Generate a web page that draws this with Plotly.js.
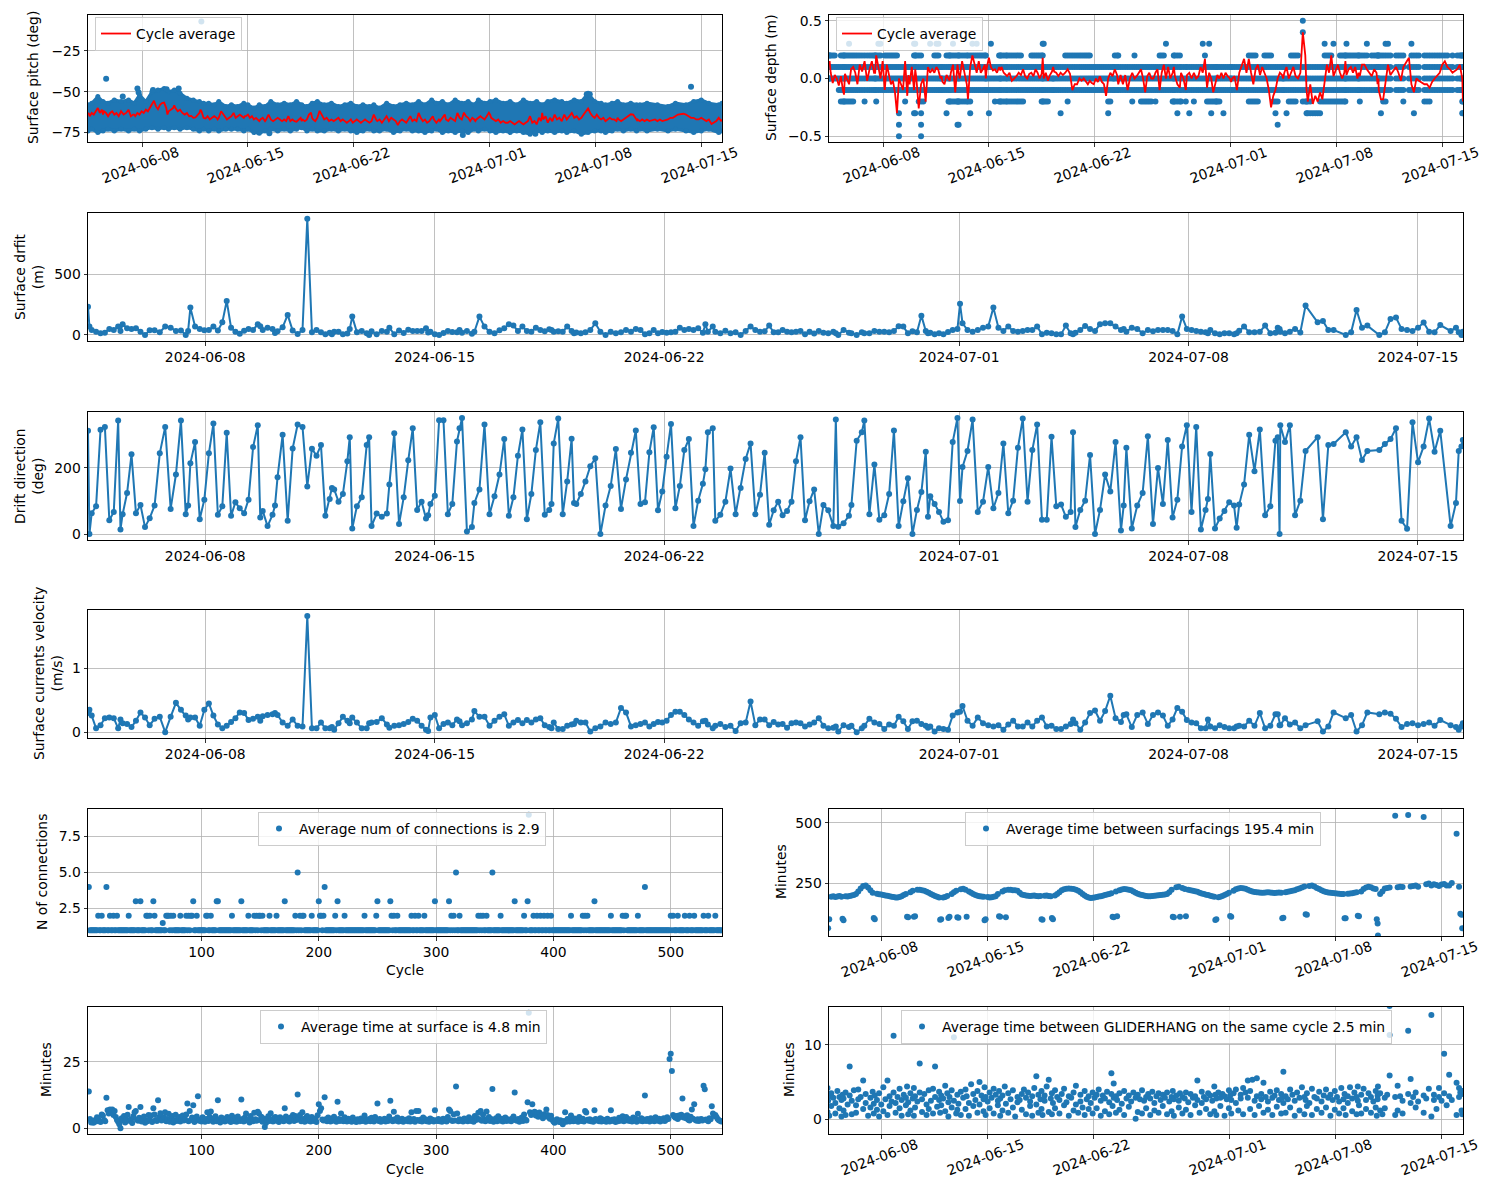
<!DOCTYPE html>
<html><head><meta charset="utf-8">
<script src="https://cdn.plot.ly/plotly-3.0.1.min.js"></script>
<style>body{margin:0;background:#fff}#chart{width:1500px;height:1200px}</style>
</head><body><div id="chart"></div>
<script>
// ---------------- DATA ----------------
const firstSurfacing = '2024-06-04 10:10';
// minutes between consecutive surfacings
const surfIntervalMin = [
62,100,193,195,192,194,196,193,102,95,195,194,196,198,200,
205,215,228,238,240,232,220,210,
105,100,206,204,203,200,198,197,195,193,192,190,190,192,195,
200,205,110,108,212,218,110,112,222,222,220,
218,214,210,205,200,196,193,190,98,100,190,
192,196,105,110,205,212,218,108,106,224,226,222,110,215,
210,205,200,197,195,194,193,95,100,192,190,191,193,195,
205,112,110,215,220,108,222,222,220,220,218,
210,203,200,198,197,196,197,198,196,195,196,100,98,197,198,196,195,105,100,198,
205,212,220,224,226,227,226,225,222,218,212,
205,198,193,190,188,189,190,192,194,195,197,200,203,205,208,
110,108,215,112,220,223,225,224,222,220,
215,210,206,203,200,198,196,195,195,196,197,198,199,200,201,203,205,
212,222,110,108,233,235,110,230,225,112,222,220,218,
216,214,210,207,205,202,200,197,195,193,97,100,191,193,
196,200,205,210,113,110,218,224,228,230,229,226,
222,218,215,213,212,211,210,210,211,212,211,210,209,210,211,210,104,106,212,214,216,218,220,224,228,
232,236,120,118,238,240,236,230,225,220,
216,213,211,210,209,208,207,206,205,205,104,104,206,207,208,210,212,114,112,215,
225,232,235,233,228,225,100,82,32,205,215,
228,230,232,530,233,235,234,533,236,
238,240,235,525,245,248,240,245,242,238,244,246,240,240,250,455,235,122,118,62];

const surfaceDriftM = [
233,69,41,27,14,19,50,41,69,33, 88,55,50,55,27,0,38,38,22,69, 60,33,36,0,33,225,69,50,38,41,
69,36,104,280,60,27,11,35,50,41, 88,71,41,60,50,16,30,63,165,36, 8,41,956,22,41,22,5,18,5,27,
27,5,12,50,151,22,33,14,0,30, 5,33,27,60,5,36,16,44,33,33, 33,55,20,27,5,0,16,33,25,22,
41,19,33,10,27,151,69,27,14,38, 55,88,77,33,69,33,27,60,41,30, 48,
41,27,30,27,69,33,14,20,14,22, 41,96,27,0,27,14,22,40,27,50, 41,5,14,41,14,25,19,22,27,60,
41,50,41,55,18,88,27,69,27,14, 35,14,22,0,33,69,41,27,30,77, 22,22,41,27,22,27,33,5,27,12,
33,19,14,27,14,0,41,19,14,0, 22,14,14,33,27,27,22,33,71,69, 14,30,22,159,33,14,19,5,14,5,
25,41,50,256,96,41,27,41,60,69, 225,60,33,
69,33,27,33,41,41,69,5,19,14, 5,5,77,14,5,18,41,74,50,33, 88,96,96,69,41,50,27,60,50,14,
41,30,41,41,41,33,5,151,50,41, 33,27,22,14,41,14,5,14,14,5, 14,35,69,22,22,27,77,14,19,60,
50,27,14,27,50,20,242,104,115,41, 41,0,22,206,60,77,0,22,132,143, 50,41,33,60,102,27,22,82,33,60,
22,0,27];

const driftDirectionDeg = [
312,0,63,84,315,324,42,67,343,14, 60,124,241,63,88,21,48,86,244,324, 76,180,343,60,86,214,278,45,104,244,
334,58,84,306,55,96,78,63,104,263, 329,50,70,24,58,86,172,300,40,259, 331,324,144,258,237,269,55,106,139,135,
98,121,220,293,17,84,111,269,293,24, 62,52,62,150,305,30,111,223,320,73, 98,47,57,91,116,344,344,60,91,280,
320,351,8,21,94,135,331,60,114,180, 287,55,111,237,316,45,121,254,338,58, 73,
91,274,349,60,159,288,94,91,121,159, 205,229,0,86,145,257,76,165,246,313, 91,96,247,323,72,129,234,333,78,145,
254,287,24,101,152,196,308,320,40,58, 98,198,60,139,227,274,60,119,246,28, 72,98,57,70,98,220,293,42,99,135,
0,88,72,24,346,22,33,55,88,282, 308,343,60,210,43,57,121,313,24,99, 169,0,73,127,249,52,114,91,67,37,
42,278,351,100,203,251,346,67,98,203, 78,124,274,
63,101,261,349,98,254,331,43,43,294, 84,89,52,67,308,21,73,101,239,0, 73,180,129,278,11,86,261,17,86,124,
296,30,200,91,284,50,104,265,329,67, 324,14,73,106,242,17,47,70,96,86, 19,89,150,300,190,316,57,84,282,293,
0,329,278,329,57,101,251,293,45,269, 272,308,265,293,224,251,254,272,287,320, 40,16,338,217,265,349,249,312,24,94,
251,265,284];

const currentVelocityMs = [
0.30,0.35,0.26,0.06,0.11,0.22,0.23,0.22,0.06,0.20, 0.14,0.13,0.08,0.18,0.31,0.23,0.11,0.21,0.24,0.00,
0.24,0.46,0.35,0.26,0.20,0.23,0.23,0.10,0.35,0.45, 0.26,0.12,0.06,0.10,0.16,0.22,0.31,0.30,0.19,0.21,
0.24,0.18,0.25,0.27,0.28,0.30,0.27,0.15,0.10,0.20, 0.10,0.09,1.82,0.06,0.06,0.15,0.06,0.06,0.08,0.04,
0.14,0.24,0.18,0.14,0.23,0.15,0.06,0.06,0.14,0.15, 0.16,0.22,0.12,0.07,0.10,0.11,0.13,0.16,0.21,0.18,
0.10,0.04,0.02,0.23,0.27,0.06,0.13,0.15,0.11,0.20, 0.17,0.11,0.14,0.20,0.33,0.24,0.24,0.10,0.18,0.24,
0.28,0.10,0.15,0.19,0.14,0.19,0.15,0.20,0.22,0.11, 0.08,0.06,0.15,0.05,0.05,0.10,0.12,0.13,0.18,0.15,
0.15,0.01,0.06,0.09,0.15,0.13,0.15,0.38,0.31,0.09, 0.11,0.13,0.15,0.09,0.13,0.16,0.15,0.18,0.27,0.32,
0.32,0.27,0.20,0.15,0.10,0.17,0.18,0.12,0.06,0.10, 0.13,0.08,0.10,0.02,0.14,0.15,0.48,
0.11,0.20,0.20,0.11,0.16,0.12,0.13,0.07,0.14,0.15, 0.14,0.09,0.12,0.15,0.22,0.10,0.06,0.07,0.09,0.01,
0.11,0.08,0.10,0.00,0.06,0.10,0.21,0.15,0.13,0.05, 0.12,0.10,0.24,0.17,0.05,0.17,0.18,0.13,0.10,0.07,
0.09,0.01,0.06,0.05,0.04,0.26,0.31,0.32,0.41,0.18, 0.10,0.23,0.14,0.11,0.09,0.11,0.04,0.12,0.18,0.09,
0.09,0.15,0.09,0.18,0.23,0.09,0.10,0.05,0.05,0.09, 0.13,0.20,0.14,0.04,0.15,0.30,0.34,0.18,0.33,0.57,
0.22,0.16,0.27,0.28,0.08,0.27,0.31,0.13,0.27,0.31, 0.26,0.10,0.20,0.38,0.32,0.19,0.15,0.14,0.06,0.06,
0.20,0.09,0.06,0.11,0.08,0.06,0.06,0.09,0.10,0.09, 0.18,0.10,0.30,0.06,0.10,0.28,0.28,0.11,0.11,0.22,
0.12,0.15,0.06,0.11,0.17,0.01,0.09,0.31,0.22,0.27, 0.01,0.11,0.31,0.28,0.31,0.29,0.21,0.08,0.13,0.14,
0.11,0.13,0.15,0.10,0.19,0.11,0.08,0.04,0.09,0.14];

// surface pitch: cycle average, and the envelope of the raw samples (every third surfacing)
const pitchCycleAvgDeg = [
-64,-63,-65,-63,-64,-62,-60,-63,-61,-64,-62,-63,-65,-63,-62,-64,
-63,-65,-62,-64,-63,-61,-65,-64,
-64,-65,-63,-64,-62,-63,-61,-62,-60,-58,-55.5,-59,-60.7,-58,-57,
-56.7,-60,-64,-62,-61,-60,-58.3,-60,-62,-61,-63,
-64,-63,-65,-64.8,-66,-65.8,-64,-63,-61,-62,-66,
-66.4,-65,-66,-67,-66,-65,-66,-67,-66,-62,-64,-66,-67,-66,
-65,-63,-66,-65,-64,-65,-66,-65,-65,-64,-66,-65,-67,-66,
-67,-68,-67,-66,-68,-67,-64,-67,-68,-67,-66,
-67,-68,-67,-68,-65,-68,-67,-68,-68.4,-67,-66,-68,-67,-68,-67,-64,-62.8,-66,-67,-68,
-66,-61.7,-64,-67,-66,-68,-67,-68,-67,-66,-68,
-67,-68,-69,-68,-67,-69,-68,-67,-68,-69,-68,-67,-68,-69,-68,
-66,-64,-67,-68,-67,-69,-67,-65,-68,-66,
-67,-68,-70.4,-68,-67,-68,-69,-67,-65,-68,-67,-68,-63,-66,-68,-67,-69,
-68,-66,-65,-67,-69,-67,-68,-66,-64,-67,-68,-66,-67,
-68,-63,-66,-67,-62.8,-65,-66,-68,-66,-67,-68,-67,-66,-65,
-66,-67,-65,-62.8,-64,-66,-67,-68,-67,-69,-68,-69,
-69,-68,-69,-70,-69,-68,-69,-70,-69,-68,-65,-69,-68,-70,-66,-68,-63,-67,-65,-69,-66,-68,-64,-67,-66,
-68,-64,-66,-67,-65,-63,-66,-65,-67,-66,
-64,-62,-60.3,-63,-65,-66,-64,-66,-67,-66,-67,-68,-67,-66,-67,-67,-68,-66,-67,-68,
-67,-66,-65,-63.8,-64,-66,-67,-68,-67,-68,-67,
-68,-67,-68,-67,-68,-67,-68,-67,-66,
-66,-65,-64,-63.5,-64,-65,-66,-66,-67,-67,-66,-67,-68,-67,-69.8,-68,-66,-67,-68,-67];
const pitchUpperDeg = [
-58,-57,-53,-56,-57,-55, -56,-55, -57,-52,-56,-50,-49, -48,-50,-49,-51, -54,-55,-56,-57,
-57,-58,-56,-59,-58, -59,-57,-58,-60,-58,-59,-56,-58, -57,-58,-56,-58,-59,-57,-56,
-58,-57,-59,-58,-57,-59,-58, -59,-58,-60,-57,-59,-58,-57,-58, -56,-58,-55,-57,-56,-58,-55,
-57,-56,-58,-55,-57,-56,-55,-57, -56,-58,-55,-57,-56,-58,-56,-55, -56,-57,-55,-56,-51,-56,
-57,-58,-57,-56,-58,-57,-58, -58,-57,-58,-59,-57,-58, -56,-55,-57,-58,-57];
const pitchLowerDeg = [
-74,-73,-75,-74,-73,-74, -73,-74, -73,-74,-73,-72,-73, -72,-73,-72,-73, -72,-73,-74,-73,
-74,-73,-74,-73,-73, -73,-74,-73,-75,-75.5,-74,-73,-74, -73,-74,-73,-72,-74,-73,-74,
-74,-73,-74,-73,-74,-75,-74, -73,-74,-74,-73,-75,-74,-73,-74, -74,-75,-74,-73,-75,-74,-75,
-74,-75,-73,-74,-73,-74,-75,-74, -75,-74,-75,-76,-74,-75,-74,-75, -74,-75,-74,-76,-75,-74,
-74,-75,-74,-73,-74,-73,-74, -73,-74,-73,-74,-73,-74, -75,-74,-73,-75,-74];
const pitchOutlierDay = [1.2, 2.3, 3.27, 3.35, 4.3, 5.2, 6.0, 7.5, 12.0, 24.8, 29.6, 33.0, 33.2, 39.9];
const pitchOutlierDeg = [-42, -53, -48, -50.5, -49, -48.5, -48, -7, -75.5, -76.5, -75.8, -51.5, -51.5, -47];

// surface depth: cycle average and the recorded depth levels [level m, from day, to day]
const depthCycleAvgM = [
0.12,0.15,0.05,-0.04,0.03,0.0,-0.06,0.02,-0.1,-0.14,0.04,0.0,-0.05,0.08,0.1,0.05,
-0.05,0.12,0.06,0.15,-0.02,0.08,0.15,0.05,
0.05,0.2,0.1,0.0,0.15,-0.1,0.12,0.02,-0.05,-0.02,-0.12,-0.3,0.0,-0.05,-0.1,
0.15,-0.15,0.03,-0.05,0.1,-0.1,0.08,0.0,-0.26,-0.05,0.0,
-0.2,0.1,0.05,0.08,0.05,0.1,0.07,0.0,0.02,-0.03,-0.05,
0.03,0.0,-0.02,0.05,0.12,-0.12,0.12,0.05,0.0,0.15,0.05,-0.05,-0.18,0.1,
0.2,0.12,0.05,0.15,0.05,0.08,0.12,0.0,0.1,0.18,0.1,0.07,0.08,0.05,
0.1,0.07,0.1,0.05,0.03,0.02,0.05,-0.02,0.0,0.02,0.05,
0.03,0.08,0.02,0.0,0.04,0.05,0.02,0.08,0.05,0.0,0.04,0.18,0.0,0.05,-0.02,0.03,0.06,0.1,0.06,0.05,
0.02,0.05,0.03,0.05,0.08,0.04,-0.1,-0.05,-0.05,0.0,-0.02,
0.0,-0.03,-0.05,-0.02,-0.04,-0.05,0.0,-0.03,0.02,-0.03,-0.05,-0.15,0.0,0.05,0.02,
0.05,0.08,0.03,-0.05,0.03,-0.05,0.03,-0.1,0.0,0.05,
0.0,0.02,0.05,0.08,0.0,-0.12,0.02,0.05,0.0,0.0,0.05,0.08,-0.1,0.05,0.12,0.0,0.1,
0.0,0.05,0.1,0.02,-0.05,-0.08,0.05,0.0,-0.1,0.03,0.05,0.0,0.05,
0.0,0.02,0.1,0.05,0.17,-0.08,0.05,0.0,-0.12,-0.05,0.0,0.03,0.0,0.05,
0.0,0.05,0.02,0.0,-0.03,0.0,0.02,-0.1,0.05,0.12,0.17,0.05,
0.17,0.05,-0.05,0.08,0.12,0.03,0.1,0.05,0.0,-0.1,-0.25,-0.15,-0.1,0.0,0.05,0.03,0.0,0.05,0.1,0.0,0.05,0.1,0.02,0.0,0.05,
0.4,0.2,-0.1,-0.2,-0.05,-0.22,-0.15,-0.2,-0.12,-0.18,
0.0,0.12,0.05,0.2,0.02,0.08,0.12,0.05,0.0,0.05,0.15,0.03,0.08,0.1,0.05,0.1,0.0,0.05,0.02,0.12,
0.12,0.08,0.05,0.02,0.08,0.05,-0.05,0.0,-0.1,-0.18,-0.18,
-0.02,0.12,0.03,0.1,0.05,-0.02,0.1,0.18,-0.05,
-0.12,0.0,-0.02,-0.05,-0.05,-0.08,-0.03,0.0,0.03,0.05,0.12,0.15,0.1,0.08,0.05,0.08,0.12,0.05,0.0,-0.2];
const depthLevelSpans = [
[0.1,0,41.95],[0,0,41.95],[-0.1,0.6,41.95],
[0.2,0,0.37],[0.2,0.84,3.34],[0.2,3.75,4.43],[0.2,5.68,6.15],[0.2,6.93,7.18],[0.2,7.8,8.34],[0.2,8.5,9.12],
[0.2,9.27,10.37],[0.2,11.3,12.7],[0.2,13.33,14.11],[0.2,15.67,16.92],[0.2,17.2,17.2],[0.2,18.95,19.1],
[0.2,20.2,20.2],[0.2,21.9,22.2],[0.2,22.85,23.17],[0.2,24.85,24.85],[0.2,27.7,28.2],[0.2,28.8,29.25],
[0.2,30.5,31.1],[0.2,32.8,33.3],[0.2,33.8,35.65],[0.2,35.97,36.6],[0.2,36.9,38.15],[0.2,38.46,41.0],[0.2,41.27,41.95],
[0.3,1.31,1.31],[0.3,3.34,3.34],[0.3,5.68,5.68],[0.3,6.62,6.62],[0.3,7.18,7.18],[0.3,8.24,8.24],[0.3,9.43,9.43],
[0.3,9.8,9.8],[0.3,10.68,10.68],[0.3,14.2,14.2],[0.3,22.23,22.23],[0.3,24.73,24.73],[0.3,25.2,25.2],
[0.3,32.84,32.84],[0.3,33.31,33.31],[0.3,34.25,34.25],[0.3,35.65,35.65],[0.3,36.9,37.06],[0.3,38.46,38.46],
[-0.2,0.84,1.62],[-0.2,2.4,2.4],[-0.2,3.18,3.18],[-0.2,5.06,5.06],[-0.2,5.99,6.3],[-0.2,7.87,8.43],[-0.2,8.49,9.27],
[-0.2,10.99,10.99],[-0.2,11.3,12.86],[-0.2,14.11,14.42],[-0.2,15.83,15.83],[-0.2,18.48,18.64],[-0.2,20.05,20.05],
[-0.2,20.6,21.3],[-0.2,21.6,21.6],[-0.2,22.7,23.3],[-0.2,23.6,23.6],[-0.2,24.1,24.1],[-0.2,25.04,25.8],
[-0.2,27.85,28.33],[-0.2,29.4,29.72],[-0.2,30.4,30.85],[-0.2,31.3,31.9],[-0.2,32.5,34.1],[-0.2,35.19,35.19],
[-0.2,36.6,36.9],[-0.2,38.15,38.15],[-0.2,39.4,39.7],[-0.2,41.9,41.95],
[-0.3,4.62,4.62],[-0.3,5.68,5.68],[-0.3,6.15,6.15],[-0.3,7.74,7.74],[-0.3,9.27,9.27],[-0.3,10.58,10.58],
[-0.3,15.36,15.36],[-0.3,18.48,18.48],[-0.3,23.0,23.0],[-0.3,23.79,23.79],[-0.3,25.35,25.35],[-0.3,26.07,26.07],
[-0.3,29.57,29.57],[-0.3,30.25,30.25],[-0.3,31.6,32.53],[-0.3,36.59,36.59],[-0.3,38.71,38.71],[-0.3,41.9,41.95],
[-0.4,4.62,4.62],[-0.4,6.15,6.15],[-0.4,8.55,8.55],[-0.4,29.72,29.72],
[-0.5,4.62,4.62],[-0.5,6.15,6.15],[0.4,31.28,31.28],[0.5,31.28,31.28]];

// minutes between GLIDERHANG messages, listed per surfacing
const gliderhangMin = [
[4.2,1.0],[2.5],[3.1,0.5],[1.8,3.5],[2.9],[0.8,2.2],[3.8],[1.5,3.0],[0.4,2.6],[3.3],
[1.2,2.8],[3.6,0.6],[2.0],[7.1,3.2],[0.7,2.5],[3.9],[1.9,0.9],[2.7,4.0],[3.0],[5.2,1.4],
[2.2,3.4],[0.5],[2.9,1.6],[3.7],[0.8,2.1],[3.2],[1.3,2.6],[3.5,0.4],[2.0],[4.3,1.1],
[2.7],[5.2,0.6],[3.1,1.8],[2.4],[11.2,3.6],[0.9,2.2],[3.0],[1.5,4.1],[2.6,0.5],[3.3],
[1.9,2.9],[4.4],[0.7,2.3],[3.5,1.2],[2.8],[0.5,4.2],[3.1,1.6],[2.4],[7.5,3.6],[1.0,2.7],
[3.4],[0.6,2.0],[3.9,1.4],[2.5],[4.1,0.8],[7.1,3.0],[1.7],[2.6,3.7],[0.9],[3.2,1.9],
[2.8],[4.5,1.1],[3.5],[0.4,2.3],[3.0],[1.6,3.9],[11.0,2.5],[0.8],[3.3,1.3],[2.1],
[3.7,0.6],[2.9],[1.4,4.0],[3.1],[2.2,0.5],[4.7],[3.4,1.8],[2.6],[0.9,3.8],[5.0,2.0],
[3.2],[1.1,2.7],[4.3],[0.6,3.0],[2.4],[3.6,1.5],[2.9],[0.8,4.1],[3.3],[1.9,2.5],
[3.8],[0.5,2.8],[3.2,1.2],[4.4],[2.1],[0.9,3.5],[2.7],[3.9,1.6],[0.4],[3.0,2.3],
[2.6],[1.3,3.4],[4.0],[0.7,2.9],[3.6],[1.8,2.4],[3.1,0.5],[4.2],[5.8,2.0],[0.9,3.3],
[2.7],[3.8,1.4],[0.6],[2.5,3.2],[4.4],[5.3,1.0],[2.8],[3.5,0.7],[2.2],[1.5,3.9],
[3.0],[0.8,2.6],[3.4],[1.9,4.1],[2.3],[0.5,3.1],[2.9],[3.6,1.2],[4.5,2.0],[0.9],
[3.3,2.4],[1.6],[3.8,0.6],[2.7],[3.1,1.4],[2.2],[0.8,3.6],[2.9],[1.5,3.3],[4.0],
[2.5,0.5],[3.2],[1.1,2.8],[3.7],[0.7,2.3],[6.2,3.4],[1.8],[4.8,2.9],[0.9,3.1],[2.6],
[3.5,1.3],[2.1],[0.6,3.8],[2.8],[3.2,1.7],[2.4],[3.6],[0.1,2.9],[3.3,1.0],[2.7],
[3.9,0.8],[2.5],[3.0,1.5],[3.4],[0.6,2.8],[3.7],[2.2,1.2],[3.1],[0.9,3.5],[2.6],
[3.3,1.8],[2.9],[0.7,3.6],[2.4],[3.0,1.1],[3.8],[2.7,0.5],[3.2],[1.6,2.5],[3.5],
[0.8,3.0],[2.8],[3.6,1.3],[2.3],[0.6,3.4],[2.9],[3.1,1.9],[5.2,2.6],[0.9],[3.7,2.2],
[3.0],[1.4,2.7],[3.5],[0.7,3.2],[2.5],[4.4,1.1],[3.3],[2.8,0.6],[3.6],[1.8,2.9],
[3.4],[0.5,3.1],[2.7],[3.9,1.5],[3.2],[0.8,2.6],[3.5],[2.2,4.0],[1.2],[3.3,2.8],
[4.2,0.7],[3.6],[5.2,2.9],[1.4,3.8],[5.3],[2.5,0.6],[5.5,3.1],[1.8],[3.4,2.7],[4.9,0.9],
[3.0],[2.4,1.3],[3.7],[0.6,2.9],[3.2],[1.7,3.9],[2.6],[0.8,3.4],[2.9],[6.4,2.2],
[3.1,0.9],[2.7],[4.0,1.6],[3.3],[0.5,2.5],[3.6],[2.9,1.2],[4.3],[0.7,3.0],[2.6],
[3.5,1.8],[2.2],[4.1,0.6],[3.0],[1.4,2.8],[3.7],[0.9,2.4],[3.2],[1.6,4.0],[2.9],
[0.5,3.3],[2.6],[3.8,1.3],[3.0],[0.8,2.4],[4.2],[2.7,1.5],[3.4],[0.6],[3.1,2.2],
[4.3],[1.1,2.8],[3.6],[0.7,3.0],[4.4,2.5],[1.9],[3.3,0.8],[4.1],[2.6,1.4],[3.5],
[0.9,3.0],[2.4],[3.8,1.6],[0.5],[3.2,2.7],[4.4],[1.2,3.5],[0.7],[2.9,1.5],[3.3],
[15.2,11.3,5.9],[0.6,3.0],[4.5,1.2],[3.1],[2.5,0.8],[11.9,3.4],[5.4,2.2],[3.0],[1.6,3.6],[2.4],
[3.2,0.9],[2.8],[4.1],[14.0,0.4],[3.3,2.6],[1.4],[3.0,4.2],[2.5],[8.8,3.5],[1.9],
[6.0,3.1],[2.6],[4.9,0.6],[4.2,3.0],[3.6],[3.4,1.2],[0.7,3.8]];

// per cycle, starting at cycle 4
const firstCycle = 4;
const connectionsPerCycle = [
4,1,1,1,1,1,1,1,2,1,1,2,1,1,1,4,1,1,2,1, 1,2,1,1,2,1,1,1,1,1,1,1,1,1,2,1,1,1,1,1,
3,1,1,1,3,1,1,1,1,2,2,1,2,1,1,3,2,1,1,1, 1,1,1,1.5,1,1,2,2,2,1,2,1,2,1,1,1,1,1,2,1,
1,1,1,2,1,2,1,2,2,3,1,1,2,1,1,1,1,1,1,1, 2,2,1,1,2,1,1,1,1,3,3,1,1,1,1,1,1,1,1,1,
1,1,2,1,1,1,1,1,1,1,3,1,1,1,1,1,2,1,1,1, 1,2,1,2,1,2,2,1,2,1,1,1,1,1,2,1,1,1,1,1,
2,1,1,1,1,1,1,3,1,1,1,1,1,1,1,1,2,1,5,1, 2,1,2,2,1,1,1,1,1,1,2,1,1,1,1,1,3,2,2,1,
2,4,1,1,1,1,1,1,1,1,2,1,3,1,1,1,1,1,2,1, 1,1,1,1,1,1,1,1,1,1,1,1,1,1,1,2,1,1,1,1,
1,1,1,1,1,2,3,1,1,1,1,1,1,1,1,1,1,3,2,1, 2,1,1,2,1,1,1,1,1,1,1,1,1,1,1,2,1,1,2,1,
1,2,1,1,1,1,2,1,1,1,1,1,1,1,1,3,1,1,1,1, 1,1,1,1,1,1,1,3,1,2,1,2,1,5,1,1,2,1,1,1,
1,1,1,1,1,1,1,1,1,1,1,1,2,1,2,1,2,1,1,2, 1,1,1,1,5,1,1,1,1,1,1,2,1,1,1,1,1,1,1,1,
1,1,1,3,1,1,1,1,1,1,1,2,1,1,3,9,1,1,1,2, 1,1,2,1,1,2,1,1,2,1,1,2,1,1,2,1,1,1,1,1,
1,1,1,1,1,1,1,1,1,1,1,2,1,1,1,1,1,1,1,1, 1,2,1,2,1,2,1,1,1,1,1,3,1,1,1,1,1,1,1,1,
1,1,1,1,1,2,1,1,1,1,1,1,1,1,1,2,1,2,2,1, 1,1,1,1,1,1,1,1,2,1,1,1,1,1,4,1,1,1,1,1,
1,1,1,1,1,1,1,1,1,1,1,1,1,1,1,1,2,1,2,1, 1,1,2,1,1,1,1,1,2,1,1,1,2,1,1,1,2,1,1,1,
1,1,1,1,2,1,1,1,2,1,1,1,1,1,2,1,1,1,1,1];
const surfaceTimeMin = [
13.8,3.5,2.2,2.8,2.1,3.0,2.5,4.1,3.6,2.7,2.3,5.2,4.8,3.1,2.6,11.5,6.8,5.5,7.0,6.2,
7.0,5.0,6.5,4.2,3.1,2.4,1.5,0.0,3.8,2.9,4.6,2.2,3.3,5.1,8.0,2.7,3.4,2.0,4.5,6.0,
6.5,3.2,2.8,3.9,8.0,2.5,3.6,4.4,2.1,3.0,2.6,5.0,3.4,4.8,2.3,7.5,5.2,3.1,2.7,10.5,
4.1,5.6,2.9,3.3,4.0,6.0,2.6,3.5,5.4,2.4,3.8,4.6,2.2,3.0,5.1,2.7,3.6,4.2,2.5,3.3,
4.8,2.9,3.4,5.2,9.3,2.6,6.5,3.1,4.0,8.6,2.3,3.7,4.4,12.0,2.8,3.2,2.5,4.1,3.0,2.4,
3.5,6.0,2.7,4.3,6.3,3.0,2.4,3.8,4.5,2.6,10.5,3.3,2.2,4.0,2.9,3.6,2.5,3.1,4.2,2.8,
3.4,2.3,4.7,3.0,2.6,3.9,2.4,4.4,3.1,2.7,10.8,3.5,2.5,4.0,5.5,2.9,3.3,2.2,4.6,3.0,
2.6,5.8,3.4,2.8,6.2,5.5,3.1,4.3,2.4,3.7,0.5,2.0,3.2,4.5,2.7,5.6,3.3,2.5,3.9,4.2,
2.8,3.5,2.3,4.1,3.0,3.6,2.6,7.5,4.4,2.9,3.2,2.5,4.0,3.4,5.0,2.7,4.6,3.1,12.7,3.8,
5.0,2.6,6.0,3.5,2.4,3.9,4.6,2.8,3.2,2.5,4.2,3.0,2.7,3.6,2.3,4.9,9.0,6.5,7.5,3.3,
2.9,11.7,3.4,2.6,4.0,3.1,2.5,3.7,2.8,4.3,3.0,2.4,10.0,3.5,2.7,5.5,3.2,2.6,4.1,3.0,
2.5,3.6,2.8,3.3,2.4,4.0,3.1,2.6,2.3,3.4,2.9,2.5,3.7,2.7,3.0,4.8,2.4,3.2,2.8,3.5,
2.6,3.9,3.0,2.5,4.2,3.3,9.3,2.7,3.5,2.4,3.1,2.8,3.6,2.5,3.0,2.7,4.4,10.3,3.2,2.6,
6.2,3.4,2.8,4.0,2.5,3.1,2.7,3.6,2.4,3.0,2.9,3.3,2.6,3.8,2.5,6.0,2.8,3.5,2.4,6.5,
3.1,6.5,2.7,3.3,2.5,4.0,2.9,3.4,2.6,3.0,2.4,3.7,2.8,3.2,2.5,6.8,3.0,2.7,3.5,2.6,
3.1,2.4,3.6,2.8,3.3,2.5,4.2,7.0,6.5,3.0,2.7,5.3,2.9,15.7,5.5,2.6,3.4,2.8,3.1,2.5,
3.7,2.9,3.2,2.6,4.1,3.0,2.7,3.5,2.4,4.6,3.1,3.8,5.8,3.3,6.5,2.8,5.1,3.4,2.6,6.3,
3.0,4.2,2.7,3.5,14.8,2.4,3.1,3.8,2.6,4.5,3.3,2.8,3.6,2.5,3.0,4.0,2.7,3.4,2.9,3.2,
2.6,3.7,4.4,13.4,3.0,2.8,3.5,2.4,3.1,4.0,2.7,5.2,3.3,2.9,9.8,43.4,6.0,5.0,9.0,5.5,
6.2,4.8,5.6,4.3,5.9,5.1,4.6,3.8,5.3,4.4,7.0,5.0,4.1,3.6,4.7,3.2,2.5,2.1,2.8,3.4,
2.6,2.3,3.0,2.2,1.5,2.7,6.0,2.4,3.5,2.9,2.5,4.8,3.1,2.6,3.7,2.8,3.3,2.4,4.2,3.0,
2.7,3.6,2.5,6.5,5.9,3.2,2.8,3.4,2.6,3.0,2.4,6.8,3.5,2.9,3.1,2.6,3.8,2.5,3.3,2.7,
3.0,2.4,3.6,2.8,2.5,6.8,3.2,2.7,3.4,2.3,3.0,2.6,3.9,2.8,3.3,4.5,2.6,3.1,4.2,2.9,
3.5,2.7,3.2,2.5,4.0,2.9,3.6,2.4,5.4,3.1,2.8,3.8,2.6,3.3,12.3,2.7,3.5,3.0,2.5,3.8,
2.9,3.4,2.6,4.1,3.1,2.8,3.6,2.5,3.3,2.9,3.8,2.7,3.2,4.1,3.5,26.0,28.0,21.5,5.0,4.4,
3.9,4.6,3.5,4.8,4.2,5.1,11.2,4.0,4.5,3.8,4.9,3.2,2.9,4.3,7.0,3.6,9.0,3.1,2.8,3.4,
2.7,3.2,3.5,2.9,16.0,14.7,3.3,3.0,2.6,3.8,3.4,8.3,5.5,4.6,5.0,4.2,3.5,3.0,2.8,2.5];

const dateTicks = ['2024-06-08','2024-06-15','2024-06-22','2024-07-01','2024-07-08','2024-07-15'];
const cycleTicks = [100,200,300,400,500];
const legendTexts = {
  avg:'Cycle average',
  conn:'Average num of connections is 2.9',
  surf:'Average time between surfacings 195.4 min',
  atSurf:'Average time at surface is 4.8 min',
  hang:'Average time between GLIDERHANG on the same cycle 2.5 min'
};

// ---------------- BUILD ----------------
const FONT = 'DejaVu Sans', FS = 13.9, BLUE = '#1f77b4';
const t0 = Date.parse(firstSurfacing.replace(' ','T') + ':00Z');
function fmt(ms){ return new Date(ms).toISOString().replace('T',' ').slice(0,19); }
const surfMs = [t0];
surfIntervalMin.forEach(v => surfMs.push(surfMs[surfMs.length-1] + v*60000));
const surfTimes = surfMs.map(fmt);
const surfDay = surfMs.map(ms => (ms - t0)/86400000);
const dayToTime = d => fmt(t0 + d*86400000);

const W = 1500, H = 1200;
const dX = (a,b) => [a/W, b/W];
const dY = (top,bot) => [1-bot/H, 1-top/H];
const RANGE_MAIN = ['2024-06-04 10:10','2024-07-16 08:58'];
const RANGE_LOW = ['2024-06-04 12:30','2024-07-16 10:05'];

function baseAx(extra){
  return Object.assign({showline:true, linecolor:'#000', linewidth:1, mirror:true,
    ticks:'outside', ticklen:3.5, tickwidth:0.8, tickcolor:'#000',
    showgrid:true, gridcolor:'#b0b0b0', gridwidth:0.8, zeroline:false, automargin:false,
    tickfont:{family:FONT, size:FS, color:'#000'}}, extra);
}
function dateAx(extra){ return baseAx(Object.assign({type:'date', tickmode:'array', tickvals:dateTicks, ticktext:dateTicks}, extra)); }

const traces = [];
// 1 pitch
const bandX = [], bandHi = [], bandLo = [];
for (let k = 0; k < pitchUpperDeg.length; k++){ bandX.push(surfTimes[3*k]); bandHi.push(pitchUpperDeg[k]); bandLo.push(pitchLowerDeg[k]); }
traces.push({x:bandX, y:bandHi, xaxis:'x', yaxis:'y', mode:'lines+markers', line:{color:BLUE, width:3}, marker:{color:BLUE, size:5}, showlegend:false, hoverinfo:'skip'});
traces.push({x:bandX, y:bandLo, xaxis:'x', yaxis:'y', mode:'lines+markers', fill:'tonexty', fillcolor:BLUE, line:{color:BLUE, width:3}, marker:{color:BLUE, size:5}, showlegend:false, hoverinfo:'skip'});
traces.push({x:pitchOutlierDay.map(dayToTime), y:pitchOutlierDeg, xaxis:'x', yaxis:'y', mode:'markers', marker:{color:BLUE, size:6}, showlegend:false});
traces.push({x:surfTimes, y:pitchCycleAvgDeg, xaxis:'x', yaxis:'y', mode:'lines', line:{color:'#ff0000', width:1.8}, name:legendTexts.avg, legend:'legend'});
// 2 depth
const depX = [], depY = [];
depthLevelSpans.forEach(([lev,a,b]) => {
  let found = false;
  for (let i = 0; i < surfDay.length; i++) if (surfDay[i] >= a-0.075 && surfDay[i] <= b+0.075){ depX.push(surfTimes[i]); depY.push(lev); found = true; }
  if (!found){ let best = 0; surfDay.forEach((d,i) => { if (Math.abs(d-a) < Math.abs(surfDay[best]-a)) best = i; }); depX.push(surfTimes[best]); depY.push(lev); }
});
traces.push({x:depX, y:depY, xaxis:'x2', yaxis:'y2', mode:'markers', marker:{color:BLUE, size:6}, showlegend:false});
traces.push({x:surfTimes, y:depthCycleAvgM, xaxis:'x2', yaxis:'y2', mode:'lines', line:{color:'#ff0000', width:1.8}, name:legendTexts.avg, legend:'legend2'});
// 3-5 full width series
const lineStyle = {mode:'lines+markers', line:{color:BLUE, width:2}, marker:{color:BLUE, size:6}, showlegend:false};
traces.push(Object.assign({x:surfTimes, y:surfaceDriftM, xaxis:'x3', yaxis:'y3'}, lineStyle));
traces.push(Object.assign({x:surfTimes, y:driftDirectionDeg, xaxis:'x4', yaxis:'y4'}, lineStyle));
traces.push(Object.assign({x:surfTimes, y:currentVelocityMs, xaxis:'x5', yaxis:'y5'}, lineStyle));
// 6 connections
const cycles = connectionsPerCycle.map((_,i) => firstCycle + i);
traces.push({x:cycles, y:connectionsPerCycle, xaxis:'x6', yaxis:'y6', mode:'markers', marker:{color:BLUE, size:6}, name:legendTexts.conn, legend:'legend3'});
// 7 time between surfacings
traces.push({x:surfTimes.slice(1), y:surfIntervalMin, xaxis:'x7', yaxis:'y7', mode:'markers', marker:{color:BLUE, size:6}, name:legendTexts.surf, legend:'legend4'});
// 8 time at surface
traces.push({x:surfaceTimeMin.map((_,i) => firstCycle + i), y:surfaceTimeMin, xaxis:'x8', yaxis:'y8', mode:'markers', marker:{color:BLUE, size:6}, name:legendTexts.atSurf, legend:'legend5'});
// 9 gliderhang
const ghX = [], ghY = [];
gliderhangMin.forEach((vals,i) => vals.forEach(v => { ghX.push(surfTimes[i]); ghY.push(v); }));
traces.push({x:ghX, y:ghY, xaxis:'x9', yaxis:'y9', mode:'markers', marker:{color:BLUE, size:6}, name:legendTexts.hang, legend:'legend6'});

function legendAt(px, py){
  return {x:px/W, y:1-py/H, xanchor:'left', yanchor:'top', bgcolor:'rgba(255,255,255,0.8)', bordercolor:'#cccccc', borderwidth:1,
    font:{family:FONT, size:FS, color:'#000'}, itemwidth:30, tracegroupgap:0};
}

const annotations = [];
function rotTicks(xref, bottomPx){
  dateTicks.forEach(t => annotations.push({xref, yref:'paper', x:t, y:1-(bottomPx+23)/H, text:t, textangle:-20,
    showarrow:false, xanchor:'center', yanchor:'middle', xshift:-2, font:{family:FONT, size:FS, color:'#000'}}));
}
rotTicks('x', 142); rotTicks('x2', 142); rotTicks('x7', 936); rotTicks('x9', 1134);
function title(text, px, py, angle){
  annotations.push({xref:'paper', yref:'paper', x:px/W, y:1-py/H, text, textangle:angle, showarrow:false,
    xanchor:'center', yanchor:'middle', font:{family:FONT, size:FS, color:'#000'}});
}
title('Surface pitch (deg)', 33, 78, -90);
title('Surface depth (m)', 771, 78, -90);
title('Surface drfit<br>(m)', 29, 277, -90);
title('Drift direction<br>(deg)', 29, 476, -90);
title('Surface currents velocity<br>(m/s)', 48, 674, -90);
title('N of connections', 42, 872, -90);
title('Minutes', 781, 872, -90);
title('Minutes', 46, 1070, -90);
title('Minutes', 789, 1070, -90);
title('Cycle', 405, 970, 0);
title('Cycle', 405, 1169, 0);

const layout = {
  width:W, height:H, margin:{l:0,r:0,t:0,b:0}, paper_bgcolor:'#fff', plot_bgcolor:'#fff',
  font:{family:FONT, size:FS, color:'#000'}, showlegend:true, hovermode:false,
  xaxis: dateAx({domain:dX(88,722), anchor:'y', range:RANGE_MAIN, showticklabels:false}),
  yaxis: baseAx({domain:dY(15,142), anchor:'x', range:[-80.8,-3], tickvals:[-75,-50,-25], ticktext:['\u221275','\u221250','\u221225']}),
  xaxis2: dateAx({domain:dX(829,1463), anchor:'y2', range:RANGE_MAIN, showticklabels:false}),
  yaxis2: baseAx({domain:dY(15,142), anchor:'x2', range:[-0.55,0.55], tickvals:[-0.5,0,0.5], ticktext:['\u22120.5','0.0','0.5']}),
  xaxis3: dateAx({domain:dX(88,1463), anchor:'y3', range:RANGE_MAIN}),
  yaxis3: baseAx({domain:dY(213,341), anchor:'x3', range:[-49.5,1003], tickvals:[0,500], ticktext:['0','500']}),
  xaxis4: dateAx({domain:dX(88,1463), anchor:'y4', range:RANGE_MAIN}),
  yaxis4: baseAx({domain:dY(412,540), anchor:'x4', range:[-18,369], tickvals:[0,200], ticktext:['0','200']}),
  xaxis5: dateAx({domain:dX(88,1463), anchor:'y5', range:RANGE_MAIN}),
  yaxis5: baseAx({domain:dY(610,738), anchor:'x5', range:[-0.091,1.914], tickvals:[0,1], ticktext:['0','1']}),
  xaxis6: baseAx({domain:dX(88,722), anchor:'y6', range:[3.3,543.7], tickvals:cycleTicks}),
  yaxis6: baseAx({domain:dY(809,936), anchor:'x6', range:[0.6,9.4], tickvals:[2.5,5,7.5], ticktext:['2.5','5.0','7.5']}),
  xaxis7: dateAx({domain:dX(829,1463), anchor:'y7', range:RANGE_LOW, showticklabels:false}),
  yaxis7: baseAx({domain:dY(809,936), anchor:'x7', range:[30,558], tickvals:[250,500]}),
  xaxis8: baseAx({domain:dX(88,722), anchor:'y8', range:[3.3,543.7], tickvals:cycleTicks}),
  yaxis8: baseAx({domain:dY(1007,1134), anchor:'x8', range:[-2.17,45.6], tickvals:[0,25]}),
  xaxis9: dateAx({domain:dX(829,1463), anchor:'y9', range:RANGE_LOW, showticklabels:false}),
  yaxis9: baseAx({domain:dY(1007,1134), anchor:'x9', range:[-1.96,15.07], tickvals:[0,10]}),
  legend: legendAt(95,17), legend2: legendAt(836,17),
  legend3: legendAt(258,812), legend4: legendAt(965,812),
  legend5: legendAt(260,1010), legend6: legendAt(901,1010),
  annotations
};
Plotly.newPlot('chart', traces, layout, {staticPlot:true, displayModeBar:false});
</script>
</body></html>
